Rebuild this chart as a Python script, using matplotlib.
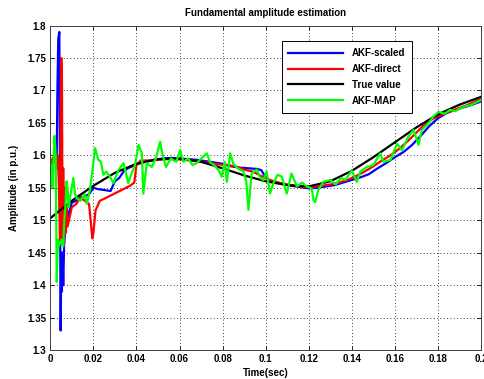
import matplotlib
matplotlib.use("Agg")
import matplotlib.pyplot as plt

plt.rcParams['font.family'] = ['Liberation Sans', 'DejaVu Sans']
plt.rcParams['font.weight'] = 'bold'

# ---- data ----
t_true = [0.00, 0.01, 0.02, 0.03, 0.04, 0.05, 0.06, 0.07, 0.08, 0.09, 0.10,
          0.11, 0.12, 0.13, 0.14, 0.15, 0.16, 0.17, 0.18, 0.19, 0.20]
v_true = [1.503, 1.530, 1.553, 1.573, 1.587, 1.594, 1.595, 1.590, 1.580, 1.569, 1.560,
          1.554, 1.552, 1.560, 1.576, 1.597, 1.620, 1.643, 1.663, 1.678, 1.690]

t_scaled = [0.0, 0.002, 0.003, 0.0033, 0.0037, 0.0042, 0.0045, 0.0048, 0.0051, 0.0054,
            0.0057, 0.006, 0.0064, 0.0068, 0.0072, 0.0078, 0.0085, 0.010, 0.012, 0.014,
            0.016, 0.018, 0.020, 0.022, 0.024, 0.026, 0.028, 0.030, 0.032, 0.034,
            0.036, 0.038, 0.040, 0.044, 0.048, 0.052, 0.056, 0.060, 0.064, 0.068,
            0.072, 0.076, 0.080, 0.084, 0.088, 0.092, 0.096, 0.098, 0.100, 0.102,
            0.104, 0.108, 0.112, 0.116, 0.120, 0.124, 0.128, 0.132, 0.136, 0.140,
            0.144, 0.148, 0.152, 0.156, 0.160, 0.164, 0.168, 0.172, 0.176, 0.180,
            0.184, 0.188, 0.192, 0.196, 0.200]
v_scaled = [1.585, 1.590, 1.600, 1.700, 1.780, 1.790, 1.550, 1.330, 1.450, 1.390,
            1.450, 1.400, 1.460, 1.480, 1.490, 1.500, 1.510, 1.527, 1.530, 1.535,
            1.537, 1.540, 1.550, 1.548, 1.547, 1.546, 1.545, 1.560, 1.565, 1.575,
            1.580, 1.583, 1.586, 1.590, 1.593, 1.595, 1.596, 1.595, 1.594, 1.593,
            1.591, 1.589, 1.587, 1.583, 1.581, 1.580, 1.579, 1.577, 1.566, 1.561,
            1.559, 1.556, 1.553, 1.551, 1.549, 1.550, 1.552, 1.554, 1.558, 1.562,
            1.566, 1.571, 1.580, 1.588, 1.597, 1.605, 1.616, 1.630, 1.645, 1.657,
            1.665, 1.670, 1.674, 1.678, 1.683]

t_direct = [0.0, 0.001, 0.002, 0.003, 0.0035, 0.004, 0.0045, 0.0048, 0.0051, 0.0054,
            0.0057, 0.006, 0.0063, 0.0066, 0.007, 0.0075, 0.008, 0.009, 0.010, 0.012,
            0.014, 0.016, 0.018, 0.019, 0.0195, 0.020, 0.021, 0.023, 0.025, 0.028,
            0.031, 0.034, 0.037, 0.039, 0.040, 0.042, 0.046, 0.050, 0.054, 0.058,
            0.062, 0.066, 0.070, 0.074, 0.078, 0.082, 0.086, 0.090, 0.094, 0.098,
            0.102, 0.106, 0.110, 0.114, 0.118, 0.122, 0.126, 0.130, 0.134, 0.138,
            0.142, 0.146, 0.150, 0.154, 0.158, 0.162, 0.166, 0.170, 0.174, 0.178,
            0.182, 0.186, 0.190, 0.194, 0.198, 0.200]
v_direct = [1.585, 1.595, 1.600, 1.580, 1.600, 1.550, 1.470, 1.650, 1.750, 1.720,
            1.470, 1.580, 1.460, 1.550, 1.480, 1.520, 1.490, 1.505, 1.520, 1.525,
            1.535, 1.530, 1.525, 1.490, 1.472, 1.480, 1.515, 1.530, 1.533, 1.538,
            1.543, 1.548, 1.553, 1.558, 1.585, 1.592, 1.592, 1.593, 1.594, 1.594,
            1.593, 1.592, 1.590, 1.588, 1.586, 1.585, 1.583, 1.578, 1.575, 1.568,
            1.562, 1.558, 1.555, 1.553, 1.551, 1.551, 1.553, 1.555, 1.558, 1.562,
            1.568, 1.575, 1.583, 1.592, 1.600, 1.610, 1.622, 1.635, 1.648, 1.657,
            1.663, 1.668, 1.673, 1.678, 1.684, 1.686]

t_map = [0.000, 0.0005, 0.001, 0.0015, 0.002, 0.0025, 0.003, 0.0035, 0.004, 0.005,
         0.006, 0.0065, 0.007, 0.0075, 0.008, 0.0085, 0.009, 0.0107, 0.0115, 0.0123,
         0.014, 0.016, 0.017, 0.0184, 0.0195, 0.0208, 0.0223, 0.0235, 0.0246, 0.026,
         0.0277, 0.0293, 0.0316, 0.034, 0.0362, 0.0375, 0.0393, 0.041, 0.0425, 0.0432,
         0.0448, 0.0471, 0.049, 0.051, 0.052, 0.0537, 0.056, 0.0585, 0.0603, 0.0618,
         0.064, 0.066, 0.068, 0.070, 0.0727, 0.0742, 0.076, 0.078, 0.0796, 0.081,
         0.082, 0.0835, 0.085, 0.087, 0.0897, 0.091, 0.0920, 0.0935, 0.0959, 0.0975,
         0.099, 0.1005, 0.102, 0.1036, 0.1055, 0.1075, 0.1098, 0.112, 0.1145, 0.117,
         0.119, 0.1214, 0.1222, 0.123, 0.1245, 0.1268, 0.130, 0.1325, 0.135, 0.137,
         0.140, 0.1423, 0.144, 0.147, 0.150, 0.1532, 0.1547, 0.158, 0.161, 0.1633,
         0.1663, 0.1687, 0.171, 0.1725, 0.1749, 0.178, 0.1803, 0.183, 0.1857, 0.188,
         0.1903, 0.193, 0.195, 0.1975, 0.200]
v_map = [1.590, 1.580, 1.550, 1.595, 1.630, 1.600, 1.405, 1.470, 1.460, 1.470,
         1.460, 1.500, 1.520, 1.560, 1.550, 1.520, 1.531, 1.565, 1.540, 1.534,
         1.530, 1.540, 1.525, 1.547, 1.575, 1.611, 1.593, 1.590, 1.570, 1.575,
         1.567, 1.557, 1.577, 1.588, 1.557, 1.570, 1.585, 1.616, 1.603, 1.541,
         1.588, 1.582, 1.595, 1.621, 1.603, 1.582, 1.595, 1.590, 1.608, 1.590,
         1.595, 1.585, 1.588, 1.595, 1.603, 1.589, 1.585, 1.578, 1.567, 1.590,
         1.559, 1.603, 1.587, 1.580, 1.575, 1.560, 1.516, 1.572, 1.578, 1.565,
         1.562, 1.575, 1.541, 1.557, 1.570, 1.567, 1.541, 1.572, 1.552, 1.558,
         1.552, 1.549, 1.531, 1.528, 1.547, 1.559, 1.562, 1.555, 1.565, 1.562,
         1.577, 1.559, 1.575, 1.582, 1.585, 1.603, 1.590, 1.593, 1.618, 1.608,
         1.629, 1.639, 1.616, 1.639, 1.647, 1.660, 1.667, 1.664, 1.670, 1.668,
         1.672, 1.676, 1.677, 1.681, 1.685]

x_ticks = [0, 0.02, 0.04, 0.06, 0.08, 0.1, 0.12, 0.14, 0.16, 0.18, 0.2]
x_labels = ['0', '0.02', '0.04', '0.06', '0.08', '0.1', '0.12', '0.14', '0.16', '0.18', '0.2']
y_ticks = [1.3, 1.35, 1.4, 1.45, 1.5, 1.55, 1.6, 1.65, 1.7, 1.75, 1.8]
y_labels = ['1.3', '1.35', '1.4', '1.45', '1.5', '1.55', '1.6', '1.65', '1.7', '1.75', '1.8']

# ---- figure ----
fig = plt.figure(figsize=(4.84, 3.79), dpi=100)
ax = fig.add_axes([50.3 / 484, 29 / 379, 430.7 / 484, 324.5 / 379])

ax.plot(t_scaled, v_scaled, color='#0000ff', lw=1.6, label='AKF-scaled')
ax.plot(t_direct, v_direct, color='#ff0000', lw=1.6, label='AKF-direct')
ax.plot(t_true, v_true, color='black', lw=1.6, label='True value')
ax.plot(t_map, v_map, color='#00ff00', lw=1.6, label='AKF-MAP')

ax.set_xlim(0, 0.2)
ax.set_ylim(1.3, 1.8)
ax.set_xticks(x_ticks)
ax.set_xticklabels(x_labels)
ax.set_yticks(y_ticks)
ax.set_yticklabels(y_labels)
ax.tick_params(direction='in', top=True, right=True, labelsize=7, length=3, width=0.6, pad=3)
for lab in ax.get_xticklabels() + ax.get_yticklabels():
    lab.set_fontweight('bold')
ax.grid(True, linestyle=(0, (1, 3)), color='black', linewidth=0.6)
for s in ax.spines.values():
    s.set_linewidth(0.7)
    s.set_color('#404040')

ax.set_title('Fundamental amplitude estimation', fontsize=7, fontweight='bold', pad=7)
ax.set_xlabel('Time(sec)', fontsize=7, fontweight='bold', labelpad=3)
ax.set_ylabel('Amplitude (in p.u.)', fontsize=7, fontweight='bold', labelpad=6)

leg = ax.legend(loc='upper left', bbox_to_anchor=(0.537, 0.951), borderaxespad=0,
                fancybox=False, shadow=False, framealpha=1, edgecolor='black',
                handlelength=5.6, handletextpad=0.9, borderpad=0.7, labelspacing=0.6,
                prop={'weight': 'bold', 'size': 7})
leg.get_frame().set_linewidth(0.7)

fig.savefig('out.png', dpi=100)
